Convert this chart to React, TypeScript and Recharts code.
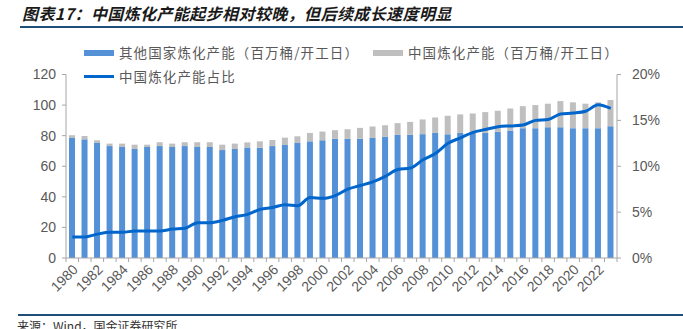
import { ComposedChart, Bar, Line, XAxis, YAxis } from "recharts";

// 1980-2023
const years = [
  "1980", "1981", "1982", "1983", "1984", "1985", "1986", "1987", "1988", "1989",
  "1990", "1991", "1992", "1993", "1994", "1995", "1996", "1997", "1998", "1999",
  "2000", "2001", "2002", "2003", "2004", "2005", "2006", "2007", "2008", "2009",
  "2010", "2011", "2012", "2013", "2014", "2015", "2016", "2017", "2018", "2019",
  "2020", "2021", "2022", "2023",
];

// 其他国家炼化产能（百万桶/开工日）
const others = [
  78.5, 77.6, 75.2, 73.2, 72.6, 71.3, 72.6, 73.2, 72.6, 73.2,
  72.6, 72.6, 70.6, 71.3, 72.3, 72.1, 73.2, 73.9, 75.2, 76.3,
  77.0, 77.9, 77.9, 77.9, 78.5, 79.4, 80.5, 80.5, 81.0, 81.8,
  80.9, 81.8, 81.8, 81.8, 82.5, 83.3, 84.9, 84.9, 85.5, 85.5,
  84.9, 84.9, 84.9, 86.2,
];

// 中国炼化产能（百万桶/开工日）
const china = [
  1.8, 2.2, 1.8, 1.6, 2.2, 2.8, 1.5, 2.5, 2.2, 2.5,
  3.1, 3.1, 3.5, 3.5, 3.3, 4.2, 4.0, 4.8, 4.4, 5.5,
  5.7, 5.7, 6.3, 7.2, 7.5, 7.4, 7.7, 8.5, 9.6, 10.1,
  12.1, 12.1, 12.7, 13.6, 13.8, 14.5, 14.4, 15.1, 15.4, 17.1,
  16.9, 16.0, 16.9, 17.1,
];

// 中国炼化产能占比 (%)
const share = [
  2.3, 2.3, 2.6, 2.8, 2.8, 2.95, 2.95, 2.95, 3.15, 3.25,
  3.85, 3.85, 4.1, 4.5, 4.75, 5.3, 5.5, 5.8, 5.7, 6.6,
  6.5, 6.8, 7.5, 7.9, 8.3, 8.9, 9.65, 9.8, 10.7, 11.4,
  12.5, 13.1, 13.7, 14.0, 14.3, 14.4, 14.5, 15.0, 15.1, 15.7,
  15.8, 16.0, 16.7, 16.3,
];

const leftTicks = [0, 20, 40, 60, 80, 100, 120];
const rightTicks = [0, 5, 10, 15, 20];

const data = years.map((y, i) => ({
  year: y,
  others: others[i],
  china: china[i],
  share: share[i],
}));

const W = 683;
const H = 329;
const PLOT_LEFT = 66;
const PLOT_RIGHT = 617;
const PLOT_TOP = 74.5;
const PLOT_BOTTOM = 258;
const BAND = (PLOT_RIGHT - PLOT_LEFT) / years.length;

const AXIS = "#a6a6a6";
const TEXT = "#595959";
const BLUE = "#5591d6";
const GREY = "#bfbfbf";
const LINE = "#0066cc";
const RULE = "#1f4e79";
const CJK = '"Noto Sans CJK SC", sans-serif';
const NUM = '"Liberation Sans", Arial, sans-serif';

// Excel-style axis: marks between bars, a slanted label on every second year
const YearTick = (props: any) => {
  const { x, y, payload, index } = props;
  const half = BAND / 2;
  const even = Number(payload.value) % 2 === 0;
  return (
    <g>
      <line x1={x - half} x2={x - half} y1={y} y2={y + 4} stroke={AXIS} />
      {index === years.length - 1 && (
        <line x1={x + half} x2={x + half} y1={y} y2={y + 4} stroke={AXIS} />
      )}
      {even && (
        <g transform={`translate(${x + 3} ${y + 9}) rotate(-45)`}>
          <text x={0} y={0} dy={5} textAnchor="end" fill={TEXT} fontSize={14} fontFamily={NUM}>
            {payload.value}
          </text>
        </g>
      )}
    </g>
  );
};

const legendText = {
  position: "absolute" as const,
  fontSize: 13.5,
  color: TEXT,
  lineHeight: "18px",
  whiteSpace: "nowrap" as const,
  letterSpacing: 1.1,
};

export default function App() {
  return (
    <div
      style={{
        position: "absolute",
        left: 0,
        top: 0,
        width: W,
        height: H,
        background: "#fff",
        overflow: "hidden",
        fontFamily: CJK,
      }}
    >
      <div
        style={{
          position: "absolute",
          left: 22,
          top: 3,
          fontSize: 16,
          fontWeight: 700,
          fontStyle: "italic",
          letterSpacing: 0.4,
          color: "#1a1a1a",
          whiteSpace: "nowrap",
          lineHeight: "20px",
        }}
      >
        图表17：中国炼化产能起步相对较晚，但后续成长速度明显
      </div>
      <div style={{ position: "absolute", left: 20, right: 0, top: 26, height: 1.5, background: RULE }} />

      <ComposedChart
        width={W}
        height={H}
        data={data}
        margin={{ top: PLOT_TOP, right: W - PLOT_RIGHT - 60, left: PLOT_LEFT - 50, bottom: H - PLOT_BOTTOM - 40 }}
        style={{ position: "absolute", left: 0, top: 0 }}
      >
        <XAxis
          dataKey="year"
          interval={0}
          height={40}
          tickSize={0}
          tickMargin={0}
          tickLine={false}
          axisLine={{ stroke: AXIS }}
          tick={<YearTick />}
        />
        <YAxis
          yAxisId="left"
          width={50}
          domain={[0, 120]}
          ticks={leftTicks}
          tickSize={4}
          tickMargin={6}
          axisLine={{ stroke: AXIS }}
          tickLine={{ stroke: AXIS }}
          tick={{ fill: TEXT, fontSize: 14, fontFamily: NUM }}
        />
        <YAxis
          yAxisId="right"
          orientation="right"
          width={60}
          domain={[0, 20]}
          ticks={rightTicks}
          tickFormatter={(v) => `${v}%`}
          tickSize={4}
          tickMargin={11}
          axisLine={{ stroke: AXIS }}
          tickLine={{ stroke: AXIS }}
          tick={{ fill: TEXT, fontSize: 14, fontFamily: NUM, textAnchor: "start" }}
        />
        <Bar yAxisId="left" dataKey="others" stackId="a" fill={BLUE} barSize={6} isAnimationActive={false} />
        <Bar yAxisId="left" dataKey="china" stackId="a" fill={GREY} barSize={6} isAnimationActive={false} />
        <Line
          yAxisId="right"
          type="monotone"
          dataKey="share"
          stroke={LINE}
          strokeWidth={3}
          dot={false}
          isAnimationActive={false}
        />
      </ComposedChart>

      {/* legend */}
      <div style={{ position: "absolute", left: 84, top: 50, width: 30, height: 6, background: BLUE }} />
      <div style={{ ...legendText, left: 119, top: 43 }}>其他国家炼化产能（百万桶/开工日）</div>
      <div style={{ position: "absolute", left: 373, top: 50, width: 30, height: 6, background: GREY }} />
      <div style={{ ...legendText, left: 408, top: 43 }}>中国炼化产能（百万桶/开工日）</div>
      <div style={{ position: "absolute", left: 84, top: 74.5, width: 30, height: 3, background: LINE }} />
      <div style={{ ...legendText, left: 119, top: 67 }}>中国炼化产能占比</div>

      <div style={{ position: "absolute", left: 18, right: 0, top: 314, height: 1.5, background: RULE }} />
      <div style={{ position: "absolute", left: 17, top: 319, fontSize: 12, color: "#333", lineHeight: "14px", whiteSpace: "nowrap" }}>
        来源：Wind，国金证券研究所
      </div>
    </div>
  );
}
